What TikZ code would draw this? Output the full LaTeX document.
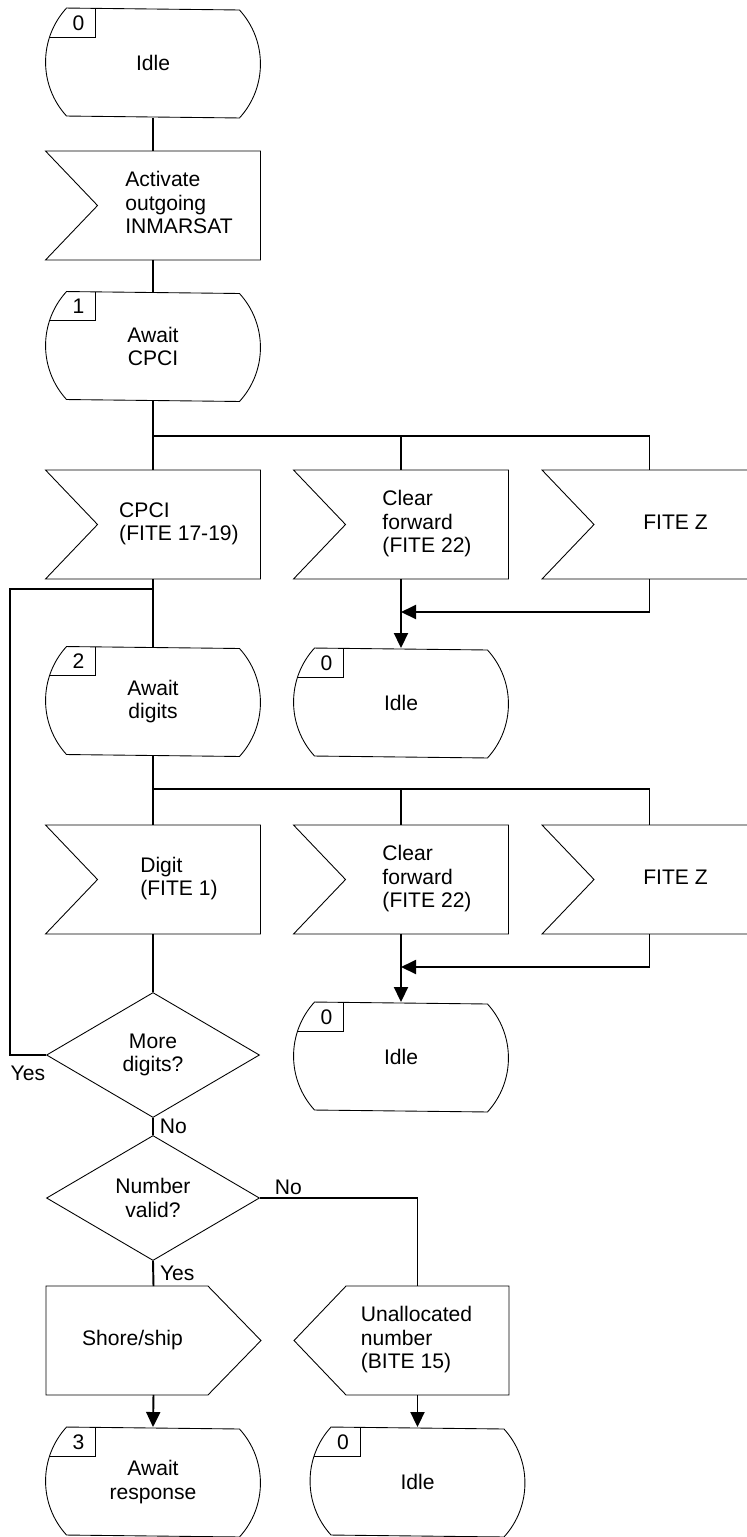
\documentclass[tikz,border=0pt]{standalone}
\usepackage{fontspec}
\setmainfont{Liberation Sans}
\usetikzlibrary{calc,arrows.meta,shapes.geometric}
\newcommand{\sdltext}[2]{\hspace*{#1}\begin{tabular}{@{}l@{}}#2\end{tabular}\hspace*{-#1}}
\tikzset{
	outline/.style={line width=0.5pt},
	state/.style={minimum width=42.6mm, minimum height=21.6mm, inner sep=0pt, align=center},
	sdlbox/.style={minimum width=42.6mm, minimum height=21.4mm, inner sep=0pt},
	decision/.style={diamond, draw, outline, minimum width=42.6mm, minimum height=25mm, inner sep=0pt, align=center},
	lbl/.style={inner sep=0pt}
}
\begin{document}
\begin{tikzpicture}[x=0.2mm, y=0.2mm, >={Triangle[length=3mm, width=2.8mm]}, line width=1.1pt, font=\fontsize{12pt}{13.4pt}\selectfont]
		\clip (0,0) rectangle (747,-1537);
		\node (s0)[state] at (153,-63) {Idle};
		\node (act)[sdlbox] at (153,-205.5) {\sdltext{5.2mm}{Activate\\outgoing\\INMARSAT}};
		\node (s1)[state] at (153,-346.5) {Await\\CPCI};
		\node (cp)[sdlbox] at (153,-524.5) {\sdltext{5.2mm}{CPCI\\(FITE 17-19)}};
		\node (cf1)[sdlbox] at (401,-524.5) {\sdltext{5.2mm}{Clear\\forward\\(FITE 22)}};
		\node (fz1)[sdlbox] at (649.5,-524.5) {\sdltext{5.2mm}{FITE Z}};
		\node (s2)[state] at (153,-701.5) {Await\\digits};
		\node (i1)[state] at (401,-703) {Idle};
		\node (dg)[sdlbox] at (153,-879.5) {\sdltext{5.2mm}{Digit\\(FITE 1)}};
		\node (cf2)[sdlbox] at (401,-879.5) {\sdltext{5.2mm}{Clear\\forward\\(FITE 22)}};
		\node (fz2)[sdlbox] at (649.5,-879.5) {\sdltext{5.2mm}{FITE Z}};
		\node (md)[decision] at (153,-1055) {More\\digits?};
		\node (i2)[state] at (401,-1057) {Idle};
		\node (nv)[decision] at (153,-1198) {Number\\valid?};
		\node (ss)[sdlbox] at (153.5,-1340.5) {\sdltext{-4.2mm}{Shore/ship}};
		\node (un)[sdlbox] at (401.5,-1340.5) {\sdltext{3mm}{Unallocated\\number\\(BITE 15)}};
		\node (s3)[state] at (153,-1482) {Await\\response};
		\node (i3)[state] at (417.5,-1482) {Idle};
		\foreach \n/\k in {s0/0,s1/1,s2/2,s3/3,i1/0,i2/0,i3/0}
		{
			\draw[outline] ($(\n.north west)+(21,0)$) arc[start angle=137.55, end angle=222.45, radius=16mm]
				-- ($(\n.south east)+(-21,0)$) arc[start angle=-42.45, end angle=42.45, radius=16mm] -- cycle;
			\draw[outline] ($(\n.north west)+(50,0)$) |- ($(\n.north west)+(4,-29)$);
			\node (\n-k) at ($(\n.north west)+(33,-15)$) {\k};
		}
		\foreach \n in {act,cp,cf1,fz1,dg,cf2,fz2}
		{
			\draw[outline] (\n.north west) -- (\n.north east) -- (\n.south east) -- (\n.south west) -- ($(\n.west)+(52,0)$) -- cycle;
		}
		\draw[outline] (ss.north west) -- ($(ss.north east)+(-53,0)$) -- (ss.east) -- ($(ss.south east)+(-53,0)$) -- (ss.south west) -- cycle;
		\draw[outline] (un.west) -- ($(un.north west)+(52,0)$) -- (un.north east) -- (un.south east) -- ($(un.south west)+(52,0)$) -- cycle;
		\coordinate (b1) at (153,-436);
		\coordinate (b2) at (153,-789);
		\coordinate (m1) at (401,-612);
		\coordinate (m2) at (401,-967);
		\coordinate (lp) at (10,-589);
		\draw (s0.south)--(act.north);
		\draw (act.south)--(s1.north);
		\draw (s1.south)--(cp.north);
		\draw (b1)-|(cf1.north);
		\draw (b1)-|(fz1.north);
		\draw[->] (cf1.south)--(i1.north);
		\draw[->] (fz1.south)|-(m1);
		\draw (cp.south)--(s2.north);
		\draw (s2.south)--(dg.north);
		\draw (b2)-|(cf2.north);
		\draw (b2)-|(fz2.north);
		\draw[->] (cf2.south)--(i2.north);
		\draw[->] (fz2.south)|-(m2);
		\draw (dg.south)--(md.north);
		\draw (md.west)-|(lp)--(lp-|cp.south);
		\node (yes1)[lbl, anchor=north east] at ($(md.west)+(0,-10)$) {Yes};
		\draw (md.south)--node (no1)[right]{No}(nv.north);
		\draw (nv.south)--node (yes2)[right]{Yes}(ss.north);
		\draw (nv.east)-|(un.north-|i3.north);
		\node (no2)[lbl, anchor=south west] at ($(nv.east)+(14,2)$) {No};
		\draw[->] (ss.south)--(s3.north);
		\draw[->] (un.south-|i3.north)--(i3.north);
	\end{tikzpicture}
\end{document}
